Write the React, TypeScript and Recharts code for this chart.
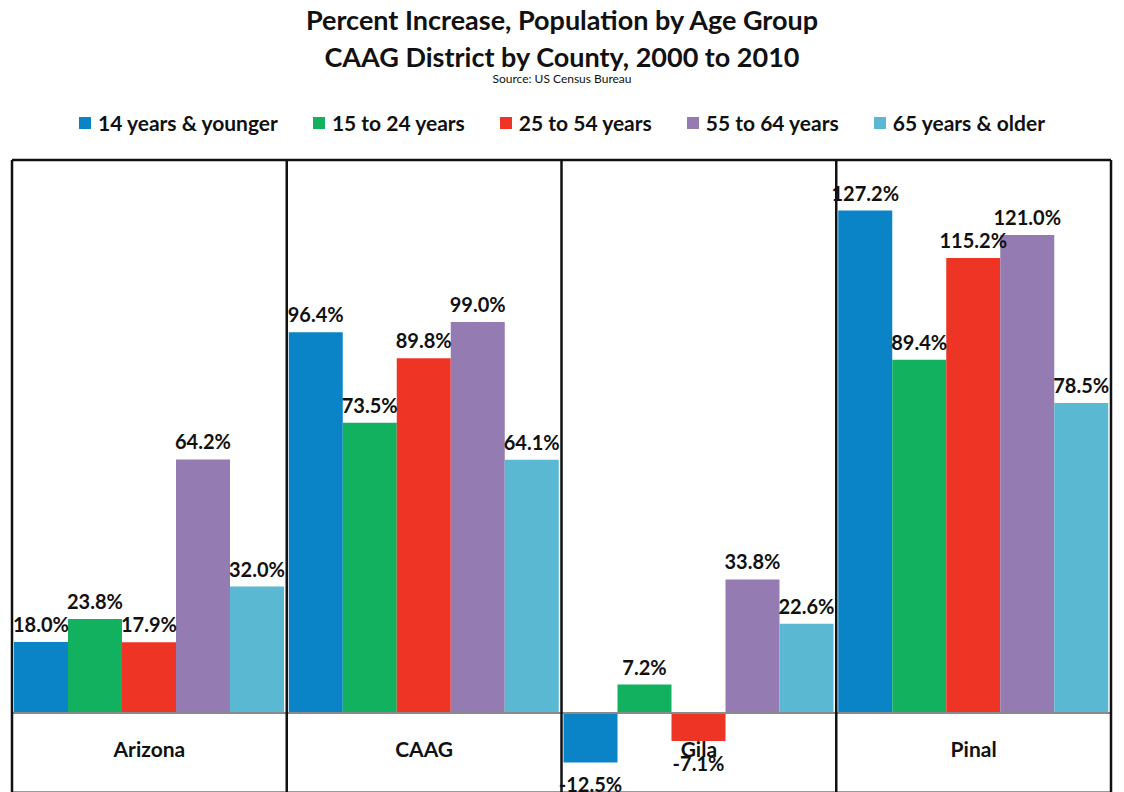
import { BarChart, Bar, XAxis, YAxis, ReferenceLine, LabelList } from 'recharts'

const counties = ['Arizona', 'CAAG', 'Gila', 'Pinal']
const ageGroups = ['14 years & younger', '15 to 24 years', '25 to 54 years', '55 to 64 years', '65 years & older']
const colors = ['#0A84C6', '#12B160', '#EE3425', '#947BB2', '#5BB8D2']

const age14Under = [18.0, 96.4, -12.5, 127.2]
const age15to24 = [23.8, 73.5, 7.2, 89.4]
const age25to54 = [17.9, 89.8, -7.1, 115.2]
const age55to64 = [64.2, 99.0, 33.8, 121.0]
const age65Over = [32.0, 64.1, 22.6, 78.5]

const seriesValues = [age14Under, age15to24, age25to54, age55to64, age65Over]
// county boundaries on a 0..4 numeric axis
const separators = [0, 1, 2, 3, 4]

const chartData = counties.map((name, i) => {
  const row: Record<string, string | number> = { name, pos: i + 0.5 }
  seriesValues.forEach((vals, s) => {
    row[`s${s}`] = vals[i]
  })
  return row
})

const FONT = "Lato, 'Open Sans', sans-serif"

function ValueLabel(props: any) {
  const { x, y, width, height, value } = props
  const top = Math.min(y, y + height)
  const bottom = Math.max(y, y + height)
  const cx = x + width / 2
  const neg = value < 0
  return (
    <text
      x={cx}
      y={neg ? bottom + 30 : top - 10}
      textAnchor="middle"
      fontFamily={FONT}
      fontWeight={700}
      fontSize={20}
      fill="#111"
    >
      {value.toFixed(1)}%
    </text>
  )
}

function CountyTick(props: any) {
  const { x, payload } = props
  return (
    <text x={x} y={757} textAnchor="middle" fontFamily={FONT} fontWeight={700} fontSize={21} fill="#111">
      {payload.value}
    </text>
  )
}

export default function App() {
  return (
    <div style={{ position: 'absolute', left: 0, top: 0, width: 1124, height: 830, background: '#fff', fontFamily: FONT }}>
      <div style={{ position: 'absolute', top: 1, left: 0, width: 1124, textAlign: 'center', color: '#111' }}>
        <div style={{ fontSize: 27, fontWeight: 700, lineHeight: '37px' }}>Percent Increase, Population by Age Group</div>
        <div style={{ fontSize: 27, fontWeight: 700, lineHeight: '37px' }}>CAAG District by County, 2000 to 2010</div>
        <div style={{ fontSize: 12, lineHeight: '14px', marginTop: -3 }}>Source: US Census Bureau</div>
      </div>
      <div
        style={{
          position: 'absolute',
          top: 110,
          left: 0,
          width: 1124,
          display: 'flex',
          justifyContent: 'center',
          gap: 35,
          fontSize: 21,
          fontWeight: 700,
          color: '#111',
        }}
      >
        {ageGroups.map((g, i) => (
          <div key={g} style={{ display: 'flex', alignItems: 'center', gap: 7 }}>
            <span style={{ display: 'inline-block', width: 12, height: 12, background: colors[i] }} />
            <span>{g}</span>
          </div>
        ))}
      </div>
      <div style={{ position: 'absolute', left: 0, top: 0 }}>
        <BarChart
          width={1124}
          height={830}
          data={chartData}
          margin={{ top: 160, right: 13, left: 12, bottom: 8 }}
          barCategoryGap={2}
          barGap={0}
        >
          <XAxis dataKey="name" height={30} axisLine={false} tickLine={false} tick={<CountyTick />} interval={0} />
          <XAxis xAxisId="sep" dataKey="pos" type="number" domain={[0, 4]} allowDataOverflow hide />
          <YAxis hide domain={[-20, 140]} allowDataOverflow />
          {seriesValues.map((_, s) => (
            <Bar key={s} dataKey={`s${s}`} name={ageGroups[s]} fill={colors[s]} isAnimationActive={false}>
              <LabelList dataKey={`s${s}`} content={<ValueLabel />} />
            </Bar>
          ))}
          <ReferenceLine y={0} stroke="#8a8a8a" strokeWidth={2} />
          <ReferenceLine y={-20} stroke="#9a9a9a" strokeWidth={2} />
          <ReferenceLine y={140} stroke="#111" strokeWidth={2.5} />
          {separators.map((v) => (
            <ReferenceLine key={v} x={v} xAxisId="sep" stroke="#111" strokeWidth={2.5} ifOverflow="visible" />
          ))}
        </BarChart>
      </div>
    </div>
  )
}
